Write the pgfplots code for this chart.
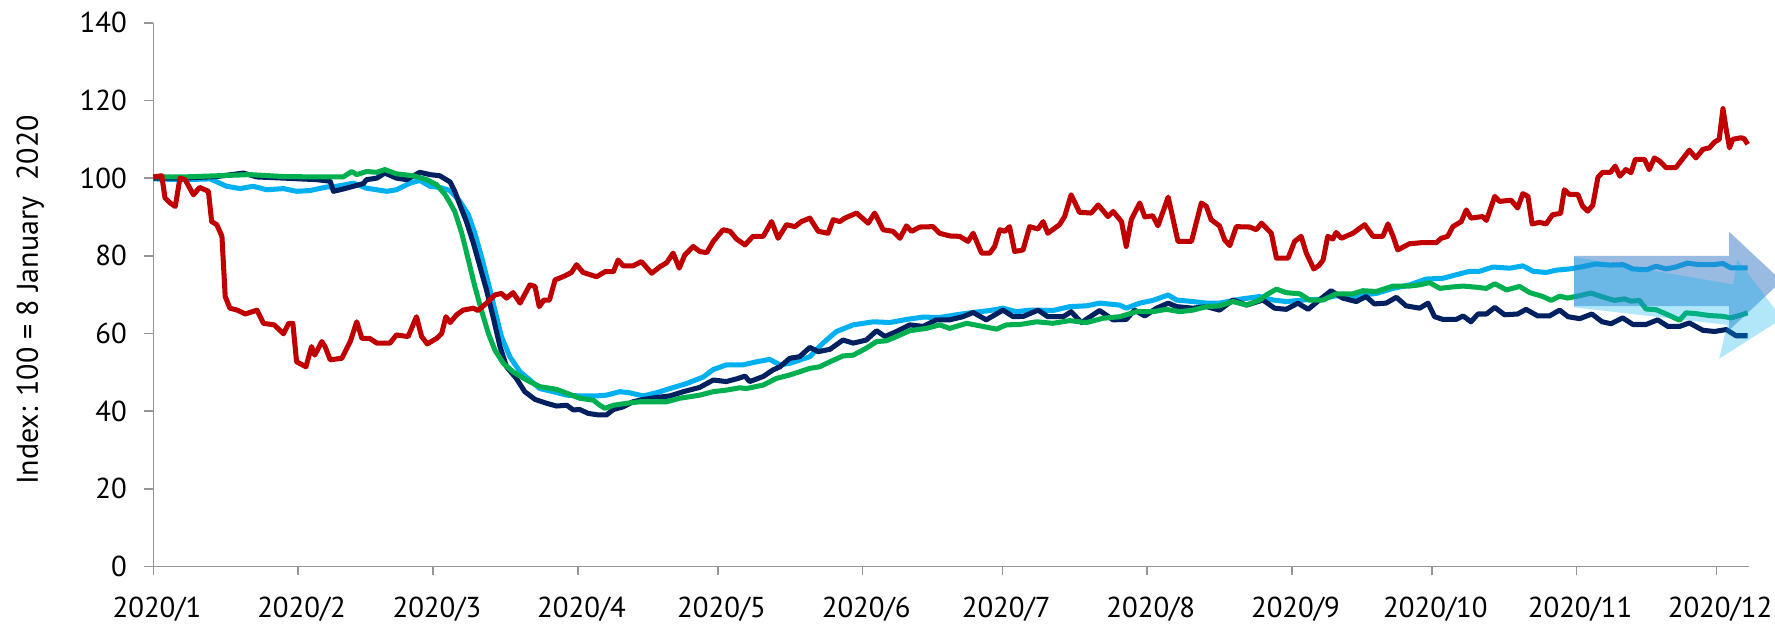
\documentclass[border=0pt]{standalone}
\usepackage{fontspec}
\setmainfont{PT Sans}
\usepackage{pgfplots}
\pgfplotsset{compat=1.18}
\definecolor{cred}{HTML}{C00000}
\definecolor{cnavy}{HTML}{002060}
\definecolor{cblue}{HTML}{00B0F0}
\definecolor{cgreen}{HTML}{00B050}
\definecolor{axgray}{RGB}{150,150,150}
\definecolor{arrdark}{RGB}{52,120,195}
\definecolor{arrlight}{RGB}{0,176,240}
\begin{document}
\begin{tikzpicture}
\begin{axis}[
  scale only axis,
  width=664.9pt, height=226.5pt,
  xmin=0, xmax=342, ymin=0, ymax=140,
  axis x line*=bottom, axis y line*=left,
  axis line style={axgray, line width=0.7pt, -},
  every tick/.style={axgray, line width=0.7pt},
  tick align=outside,
  major tick length=3.75pt,
  xtick={0,31,60,91,121,152,182,213,244,274,305,335},
  xticklabels={2020/1,2020/2,2020/3,2020/4,2020/5,2020/6,2020/7,2020/8,2020/9,2020/10,2020/11,2020/12},
  ytick={0,20,40,60,80,100,120,140},
  /pgf/number format/assume math mode=true,
  tick label style={font=\fontsize{12}{14}\selectfont, black},
  xticklabel style={yshift=-5.3pt, xshift=1.5pt},
  yticklabel style={xshift=-3.8pt},
  ylabel={Index: 100 = 8 January\ \ 2020},
  ylabel style={font=\fontsize{12.5}{14}\selectfont, at={([xshift=-51.3pt]axis description cs:0,0.49)}, anchor=center},
  clip=false,
  line join=round,
]
% light blue
\addplot[cblue, line width=2.1pt] coordinates {
(0,99.8)(6.4,99.6)(12.2,99.8)(15.7,97.9)(18.6,97.3)(21.4,97.9)(24.3,97.0)(27.9,97.3)(30.7,96.6)(33.6,96.8)(37.1,97.7)(39.3,97.9)(42.9,98.7)(45.7,97.4)(50.0,96.6)(52.1,97.0)(55.0,98.7)(57.1,99.4)(59.3,97.9)(61.4,97.6)(63.6,96.8)(65.7,94.0)(67.5,90.6)(68.9,85.8)(70.4,79.4)(71.8,72.9)(73.2,66.0)(74.6,59.2)(76.4,54.0)(78.6,50.1)(80.7,48.0)(82.8,45.8)(85.7,45.0)(88.6,44.1)(91.4,43.9)(95.0,43.9)(97.1,44.1)(100.0,45.0)(102.1,44.7)(105.0,43.9)(107.8,44.7)(110.7,45.8)(114.3,47.1)(117.9,48.8)(120.0,50.7)(122.8,51.9)(126.4,51.9)(129.3,52.7)(132.1,53.3)(134.3,51.9)(136.4,52.3)(140.7,54.0)(143.5,57.5)(146.4,60.5)(150.0,62.2)(154.3,63.0)(157.8,62.8)(161.4,63.6)(165.0,64.2)(168.5,64.1)(172.1,64.8)(175.7,65.4)(179.3,65.9)(182.1,66.5)(185.0,65.6)(187.8,66.0)(189.3,66.0)(192.8,65.9)(196.4,66.9)(200.0,67.1)(202.8,67.8)(207.1,67.3)(208.5,66.5)(211.4,67.8)(214.2,68.5)(217.5,69.9)(219.3,68.6)(222.8,68.2)(225.7,67.8)(228.5,67.8)(232.8,68.8)(237.1,69.5)(240.0,68.6)(242.8,68.2)(246.4,68.6)(250.0,68.8)(253.5,69.7)(256.4,69.3)(259.2,69.9)(262.1,70.3)(265.7,71.6)(269.2,72.5)(272.8,74.0)(276.4,74.2)(279.2,75.1)(282.1,76.0)(284.2,76.0)(287.1,77.1)(290.7,76.8)(293.5,77.4)(295.7,76.0)(298.5,75.7)(300.7,76.3)(303.5,76.6)(306.4,77.2)(309.2,77.9)(312.1,77.6)(315.0,77.7)(317.1,76.6)(320.0,76.4)(322.1,77.3)(324.2,76.6)(326.3,77.1)(328.8,78.1)(331.3,77.7)(334.2,77.7)(336.4,78.0)(338.1,76.9)(341.7,76.9)
};
% navy
\addplot[cnavy, line width=2.1pt] coordinates {
(0,100.0)(6.4,100.0)(13.6,100.4)(19.3,101.3)(22.2,100.3)(27.9,100.0)(35.0,99.6)(37.9,99.2)(38.6,96.6)(40.7,97.2)(42.9,97.9)(45.0,98.6)(45.7,99.6)(47.9,100.0)(49.6,101.3)(52.1,100.0)(54.3,99.6)(57.1,101.5)(59.3,100.9)(61.4,100.6)(63.6,99.0)(64.6,96.6)(65.7,93.1)(67.1,88.8)(68.6,83.2)(70.0,77.2)(71.4,71.2)(72.8,64.3)(74.3,56.6)(75.7,51.4)(77.8,48.4)(79.6,45.0)(81.8,43.0)(84.3,42.0)(86.4,41.3)(88.6,41.5)(90.0,40.3)(91.4,40.4)(93.2,39.4)(95.4,39.0)(97.1,39.0)(98.6,40.4)(100.7,41.1)(102.8,42.4)(105.0,43.0)(107.8,43.5)(110.7,43.9)(113.6,45.0)(117.1,46.1)(120.0,48.0)(122.8,47.6)(125.3,48.4)(126.8,49.0)(127.8,47.6)(130.7,48.9)(132.8,50.6)(134.3,51.4)(136.4,53.6)(138.5,54.0)(140.7,56.4)(142.5,55.3)(145.0,55.9)(147.8,58.3)(150.0,57.5)(152.8,58.3)(155.0,60.7)(156.8,59.2)(159.3,60.5)(162.1,62.2)(165.0,61.8)(167.8,63.5)(170.7,63.5)(173.5,64.3)(175.7,65.4)(178.5,63.5)(182.1,66.0)(184.3,64.3)(186.5,64.4)(189.6,66.0)(191.7,64.3)(195.0,64.3)(196.7,65.6)(198.9,62.8)(202.8,65.9)(205.7,63.5)(208.5,63.6)(210.3,66.0)(212.5,64.5)(215.0,66.5)(217.5,67.8)(219.3,66.9)(222.8,66.5)(225.7,66.9)(228.5,66.0)(231.4,68.6)(234.3,67.3)(237.8,68.6)(240.3,66.5)(242.8,66.2)(245.3,67.8)(247.5,66.2)(249.9,68.6)(252.4,71.0)(254.9,69.1)(257.8,68.2)(259.9,69.5)(261.7,67.6)(264.2,67.8)(266.4,69.3)(268.5,67.1)(271.4,66.5)(273.2,67.8)(274.6,64.3)(276.4,63.6)(279.2,63.6)(280.7,64.5)(282.4,63.0)(283.9,65.0)(285.7,65.0)(287.5,66.7)(289.6,64.8)(292.4,65.0)(294.2,66.2)(296.7,64.5)(299.2,64.5)(301.4,66.0)(303.2,64.3)(305.7,63.8)(308.3,65.0)(310.5,63.0)(312.4,62.5)(314.9,64.0)(317.1,62.3)(319.9,62.3)(322.4,63.5)(324.6,61.8)(327.1,61.8)(329.2,62.7)(332.1,60.8)(334.6,60.5)(337.1,61.0)(339.2,59.4)(341.7,59.4)
};
% green
\addplot[cgreen, line width=2.1pt] coordinates {
(0,100.3)(6.4,100.3)(13.6,100.6)(20.7,100.9)(27.9,100.4)(35.0,100.3)(40.7,100.3)(42.5,101.7)(43.6,100.9)(45.7,101.7)(47.9,101.5)(49.6,102.2)(52.1,101.1)(55.7,100.6)(58.6,99.6)(60.7,98.3)(62.5,95.8)(63.6,93.6)(64.6,91.4)(66.1,85.8)(67.5,79.0)(68.9,72.1)(70.4,65.6)(71.8,60.0)(73.2,55.7)(75.0,52.3)(77.1,50.1)(80.0,48.0)(82.8,46.3)(86.4,45.6)(88.6,44.6)(91.4,43.3)(94.3,42.8)(95.7,41.5)(96.8,40.7)(98.6,41.5)(101.4,42.0)(104.3,42.4)(107.1,42.4)(110.0,42.4)(112.8,43.3)(117.1,44.1)(120.0,45.0)(122.8,45.4)(125.7,46.0)(127.1,45.8)(130.7,46.7)(133.5,48.4)(136.4,49.3)(140.7,51.0)(142.8,51.4)(145.0,52.7)(147.8,54.2)(150.0,54.4)(152.8,56.2)(155.0,57.9)(157.1,58.1)(159.3,59.2)(162.1,60.7)(165.7,61.3)(168.5,62.2)(170.7,61.3)(174.3,62.6)(177.8,61.8)(180.7,61.1)(182.8,62.2)(185.7,62.3)(189.3,63.0)(192.8,62.6)(196.4,63.3)(200.0,62.8)(203.5,63.9)(207.1,64.3)(210.7,65.6)(214.2,65.6)(217.1,66.2)(220.0,65.6)(222.8,66.0)(225.7,66.9)(228.5,67.1)(231.4,68.2)(234.3,67.3)(237.1,68.6)(238.5,69.9)(240.7,71.4)(242.8,70.5)(245.7,70.2)(247.8,68.6)(250.7,68.6)(253.5,70.2)(257.1,70.2)(259.2,71.0)(262.1,70.8)(265.7,72.2)(269.2,72.2)(271.4,72.5)(273.5,73.1)(275.7,71.6)(277.8,71.9)(280.7,72.2)(283.5,71.9)(285.7,71.6)(287.5,72.8)(290.0,71.2)(292.8,72.1)(295.0,70.5)(297.8,69.5)(299.6,68.5)(301.4,69.6)(303.1,69.1)(305.6,69.7)(308.1,70.4)(310.6,69.4)(313.1,68.5)(315.3,68.9)(316.7,68.3)(318.5,68.5)(319.9,66.3)(322.1,66.1)(324.6,64.8)(327.1,63.4)(328.5,65.3)(330.6,65.1)(333.5,64.6)(336.4,64.4)(338.1,64.0)(339.9,64.6)(341.7,65.3)
};
% red
\addplot[cred, line width=2.1pt] coordinates {
(0,100.3)(1.8,100.6)(2.5,94.9)(3.6,93.6)(4.7,92.7)(5.7,100.0)(6.8,99.6)(8.6,95.7)(9.9,97.6)(11.8,96.6)(12.5,88.8)(13.6,88.0)(14.7,85.0)(15.4,69.5)(16.4,66.5)(18.0,66.0)(19.7,65.0)(22.2,66.0)(23.6,62.6)(25.9,62.2)(27.9,59.9)(29.0,62.6)(29.9,62.6)(30.7,52.7)(32.7,51.4)(33.9,56.6)(34.6,54.4)(36.1,57.9)(36.8,56.6)(37.9,53.2)(40.4,53.6)(42.2,57.9)(43.6,63.0)(44.7,58.7)(46.4,58.7)(47.9,57.5)(50.7,57.5)(52.1,59.6)(54.6,59.2)(56.4,64.3)(57.5,59.2)(58.7,57.3)(60.7,58.7)(61.8,60.0)(62.7,64.3)(63.6,62.8)(65.0,64.8)(66.4,66.0)(68.6,66.5)(69.6,65.9)(71.4,67.8)(73.2,69.9)(74.6,70.3)(75.7,69.1)(77.1,70.5)(78.6,67.8)(80.7,72.5)(81.8,72.1)(82.7,66.9)(83.7,68.6)(84.9,68.6)(86.1,73.8)(87.8,74.6)(89.6,75.7)(90.7,77.7)(92.1,75.7)(95.0,74.6)(96.8,75.9)(98.6,75.9)(99.6,78.9)(100.7,77.4)(102.8,77.4)(104.6,78.5)(106.8,75.5)(108.6,77.2)(110.0,78.2)(111.4,80.7)(112.7,76.8)(113.9,80.2)(115.7,82.4)(117.1,81.1)(118.6,80.8)(120.0,83.7)(122.1,86.7)(123.6,86.3)(125.0,84.3)(126.8,82.8)(128.5,85.0)(130.7,85.0)(132.5,88.8)(133.9,84.5)(135.7,88.0)(137.5,87.5)(138.9,88.8)(140.7,89.7)(142.5,86.3)(144.6,85.8)(145.7,89.3)(147.1,88.8)(148.2,89.7)(150.7,91.0)(153.2,88.4)(154.6,91.0)(156.4,86.7)(158.5,86.3)(160.0,84.5)(161.4,87.7)(162.5,86.3)(164.3,87.4)(167.1,87.5)(168.5,85.8)(170.7,85.1)(172.8,85.0)(174.6,83.7)(175.7,85.8)(177.5,80.7)(179.3,80.7)(180.3,82.4)(181.4,86.7)(182.5,86.3)(183.5,87.5)(184.6,81.1)(186.4,81.5)(187.8,87.5)(189.6,86.9)(190.7,88.8)(191.7,85.8)(194.2,88.0)(195.3,90.1)(196.7,95.7)(198.5,91.2)(201.0,91.0)(202.5,93.1)(204.6,90.1)(205.7,91.4)(207.5,88.8)(208.5,82.4)(209.6,89.3)(211.4,93.6)(212.5,90.0)(214.2,90.3)(215.3,87.7)(217.5,95.1)(219.6,83.7)(222.5,83.7)(224.6,93.6)(225.7,92.7)(226.7,89.3)(228.5,87.7)(229.6,84.1)(230.7,82.6)(232.1,87.5)(235.0,87.4)(236.4,86.7)(237.5,88.4)(239.6,85.8)(240.7,79.4)(243.2,79.4)(244.6,83.7)(246.0,85.0)(247.1,80.7)(248.7,76.6)(249.8,77.5)(250.7,78.9)(251.7,85.0)(252.8,84.3)(253.5,86.0)(254.6,84.5)(257.1,85.8)(259.6,88.0)(261.4,85.0)(263.5,85.0)(264.6,88.2)(265.7,85.0)(266.7,81.5)(269.2,83.1)(272.1,83.4)(275.0,83.4)(276.0,84.5)(277.4,85.0)(278.5,87.5)(280.3,88.8)(281.4,91.8)(282.4,89.7)(284.9,90.1)(285.7,89.1)(287.5,95.3)(288.5,94.0)(291.0,94.3)(292.4,92.3)(293.5,96.0)(294.6,95.3)(295.5,88.2)(297.1,88.6)(298.5,88.2)(299.9,90.6)(301.6,90.9)(302.4,97.0)(303.5,95.8)(305.3,95.8)(306.3,92.8)(307.4,91.5)(308.5,93.0)(309.6,100.2)(310.6,101.5)(312.3,101.5)(313.3,103.1)(314.3,100.5)(315.6,102.2)(316.7,101.4)(317.6,104.8)(319.6,104.8)(320.6,102.2)(321.7,105.2)(322.8,104.4)(324.2,102.7)(326.3,102.7)(327.4,104.4)(329.2,107.2)(330.6,105.2)(332.1,107.4)(333.5,107.8)(334.6,109.3)(335.6,110.0)(336.4,117.9)(337.1,112.5)(337.8,107.8)(338.5,110.0)(340.3,110.4)(341.0,110.1)(341.7,108.7)
};
% arrows
\fill[arrdark, opacity=0.5] (axis cs:304.5,80) -- (axis cs:337.7,80) -- (axis cs:337.7,86.2) -- (axis cs:349,73.5) -- (axis cs:337.7,60.8) -- (axis cs:337.7,67) -- (axis cs:304.5,67) -- cycle;
\fill[arrlight, opacity=0.3] (axis cs:304.5,79.7) -- (axis cs:338.6,72.6) -- (axis cs:339.5,79.0) -- (axis cs:349.1,63.8) -- (axis cs:335.6,53.5) -- (axis cs:337.3,62.2) -- (axis cs:304.5,66.7) -- cycle;
\end{axis}
\pgfresetboundingbox
\path[use as bounding box] (-63.9pt,-24pt) rectangle (675.7pt,236pt);
\end{tikzpicture}
\end{document}
